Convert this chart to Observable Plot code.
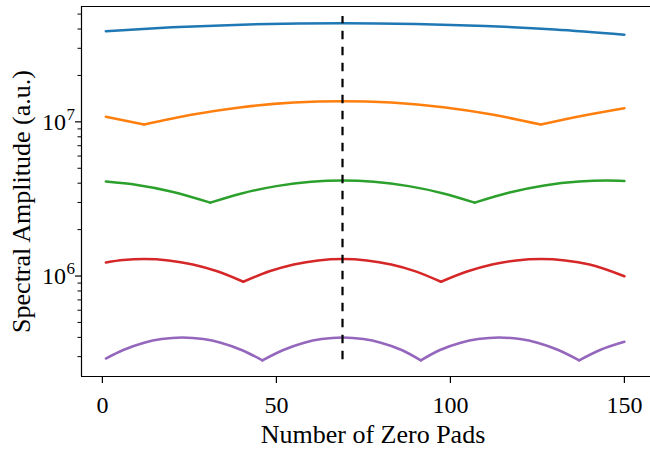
<!DOCTYPE html>
<html><head><meta charset="utf-8">
<script src="https://cdn.jsdelivr.net/npm/d3@7"></script>
<script src="https://cdn.jsdelivr.net/npm/@observablehq/plot@0.6"></script>
<style>html,body{margin:0;padding:0;background:#fff} svg{display:block}</style>
</head><body><div id="chart"></div>
<script>
const seriesNames = ["s1", "s2", "s3", "s4", "s5"];
const seriesColors = ["#1f77b4", "#ff7f0e", "#2ca02c", "#d62728", "#9467bd"];

const s1X = [1, 20, 40, 69, 90, 110, 130, 150];
const s1Y = [3.876e7, 4.102e7, 4.271e7, 4.368e7, 4.316e7, 4.183e7, 3.969e7, 3.672e7];

const s2X = [1, 12, 26, 40, 55, 69, 83, 98, 112, 126, 138, 150];
const s2Y = [1.078e7, 9.60e6, 1.115e7, 1.244e7, 1.333e7, 1.361e7, 1.333e7, 1.244e7, 1.115e7, 9.60e6, 1.095e7, 1.226e7];

const s3X = [1, 10, 20, 31, 40, 50, 60, 69, 78, 88, 98, 107, 117, 127, 137, 145, 150];
const s3Y = [4.096e6, 3.893e6, 3.523e6, 2.992e6, 3.434e6, 3.829e6, 4.083e6, 4.158e6, 4.083e6, 3.829e6, 3.434e6, 2.992e6, 3.480e6, 3.864e6, 4.096e6, 4.158e6, 4.133e6];

const s4X = [1, 6, 12, 19, 26, 33, 40.5, 48, 55, 62, 69, 76, 83, 90, 97.3, 105, 112, 119, 126, 133, 140, 150];
const s4Y = [1.225e6, 1.270e6, 1.289e6, 1.263e6, 1.188e6, 1.073e6, 9.18e5, 1.073e6, 1.188e6, 1.263e6, 1.289e6, 1.263e6, 1.188e6, 1.073e6, 9.18e5, 1.073e6, 1.188e6, 1.263e6, 1.289e6, 1.263e6, 1.188e6, 9.97e5];

const s5X = [1, 6, 12, 17, 23, 29, 34, 40, 46, 52, 58, 63, 69, 75, 80, 86, 91.5, 97, 103, 108, 114, 120, 125, 131, 137, 143, 150];
const s5Y = [2.916e5, 3.313e5, 3.694e5, 3.898e5, 3.993e5, 3.898e5, 3.694e5, 3.313e5, 2.839e5, 3.313e5, 3.694e5, 3.898e5, 3.993e5, 3.898e5, 3.694e5, 3.313e5, 2.839e5, 3.313e5, 3.694e5, 3.898e5, 3.993e5, 3.898e5, 3.694e5, 3.313e5, 2.839e5, 3.313e5, 3.745e5];

const xTicks = [0, 50, 100, 150];
const yMajorTicks = [1e6, 1e7];
const yMinorTicks = [3e5, 4e5, 5e5, 6e5, 7e5, 8e5, 9e5, 2e6, 3e6, 4e6, 5e6, 6e6, 7e6, 8e6, 9e6, 2e7, 3e7, 4e7, 5e7];
const xDomain = [-6.0, 157.5];
const yDomain = [2.23e5, 5.6e7];
const markerX = [69];
const markerYRange = [2.86e5, 4.83e7];
const xLabel = "Number of Zero Pads";
const yLabel = "Spectral Amplitude (a.u.)";

const seriesList = [
  {name: "s1", x: s1X, y: s1Y},
  {name: "s2", x: s2X, y: s2Y},
  {name: "s3", x: s3X, y: s3Y},
  {name: "s4", x: s4X, y: s4Y},
  {name: "s5", x: s5X, y: s5Y}
];

// split each series into arches at its cusps (local minima)
const rows = [];
for (const s of seriesList) {
  let seg = 0;
  s.x.forEach((x, i) => {
    const v = s.y[i];
    rows.push({x, v, series: s.name, seg: s.name + "-" + seg});
    const dip = i > 0 && i < s.x.length - 1 && v < s.y[i - 1] && v < s.y[i + 1];
    if (dip) { seg++; rows.push({x, v, series: s.name, seg: s.name + "-" + seg}); }
  });
}

const markerRows = markerX.map(x => ({x, y1: markerYRange[0], y2: markerYRange[1]}));

const chart = Plot.plot({
  width: 650,
  height: 450,
  marginLeft: 81,
  marginRight: 0,
  marginTop: 6,
  marginBottom: 74,
  style: {fontFamily: "Liberation Serif", color: "black", background: "white", overflow: "visible"},
  x: {domain: xDomain},
  y: {type: "log", domain: yDomain},
  color: {domain: seriesNames, range: seriesColors},
  marks: [
    Plot.line(rows, {x: "x", y: "v", z: "seg", stroke: "series", strokeWidth: 2.5, curve: "monotone-x"}),
    Plot.ruleX(markerRows, {x: "x", y1: "y1", y2: "y2", stroke: "black", strokeWidth: 2.2, strokeDasharray: "8.5,7.5"}),
    Plot.ruleX([xDomain[0]], {stroke: "black", strokeWidth: 1.2}),
    Plot.ruleY(yDomain, {stroke: "black", strokeWidth: 1.2}),
    Plot.axisX(xTicks, {tickSize: 7, tickPadding: 12, fontSize: 24, label: null, strokeWidth: 1.2}),
    Plot.axisY(yMajorTicks, {tickSize: 6, tickFormat: () => "", label: null, strokeWidth: 1.2}),
    Plot.axisY(yMinorTicks, {tickSize: 3.5, tickFormat: () => "", label: null, strokeWidth: 1}),
    Plot.text(yMajorTicks, {y: d => d, frameAnchor: "left", dx: -15.5, text: () => "10", textAnchor: "end", fontSize: 24}),
    Plot.text(yMajorTicks, {y: d => d, frameAnchor: "left", dx: -15, dy: -7, text: d => String(Math.round(Math.log10(d))), textAnchor: "start", fontSize: 17}),
    Plot.text([xLabel], {frameAnchor: "bottom", dx: 7, dy: 48, lineAnchor: "top", textAnchor: "middle", fontSize: 26}),
    Plot.text([yLabel], {frameAnchor: "left", rotate: -90, dx: -60, dy: 10, textAnchor: "middle", fontSize: 26})
  ]
});
document.getElementById("chart").appendChild(chart);
</script>
</body></html>
